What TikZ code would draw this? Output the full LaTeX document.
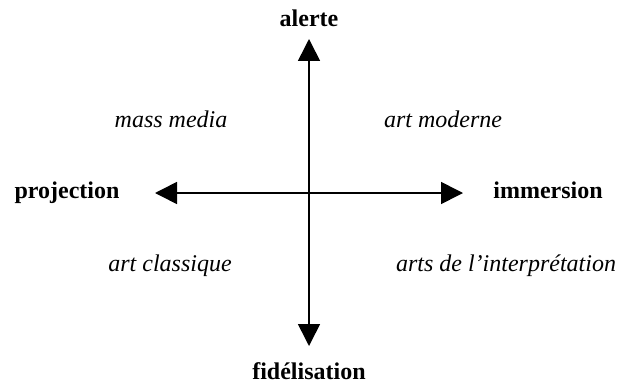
\documentclass[tikz,border=0pt]{standalone}
\usepackage{fontspec}
\setmainfont{Liberation Serif}
\usetikzlibrary{arrows.meta}

\tikzset{
  axe/.style={line width=0.8pt, -{Triangle[width=11pt,length=11pt]}},
  pole/.style={font=\fontsize{12}{14}\selectfont\bfseries, anchor=base, inner sep=0pt},
  champ/.style={font=\fontsize{12}{14}\selectfont\itshape, anchor=base, inner sep=0pt}
}

\begin{document}
\begin{tikzpicture}[x=0.5pt, y=-0.5pt]
            \useasboundingbox (0, 0) rectangle (624, 385);
            % centre et extremites des axes
            \coordinate (centre) at (309, 193);
            \coordinate (haut) at (309, 39);
            \coordinate (bas) at (309, 346);
            \coordinate (gauche) at (155, 193);
            \coordinate (droite) at (463, 193);
            \draw [axe] (centre) -- (haut);
            \draw [axe] (centre) -- (bas);
            \draw [axe] (centre) -- (gauche);
            \draw [axe] (centre) -- (droite);
            % poles
            \node [pole] (alerte) at (309, 27) {alerte};
            \node [pole] (fidelisation) at (309, 379) {fidélisation};
            \node [pole] (projection) at (67, 198) {projection};
            \node [pole] (immersion) at (548, 198) {immersion};
            % quadrants
            \node [champ] (massmedia) at (171, 127) {mass media};
            \node [champ] (artmoderne) at (443, 127) {art moderne};
            \node [champ] (artclassique) at (170, 271) {art classique};
            \node [champ] (interpretation) at (506, 271) {arts de l’interprétation};
\end{tikzpicture}
\end{document}
